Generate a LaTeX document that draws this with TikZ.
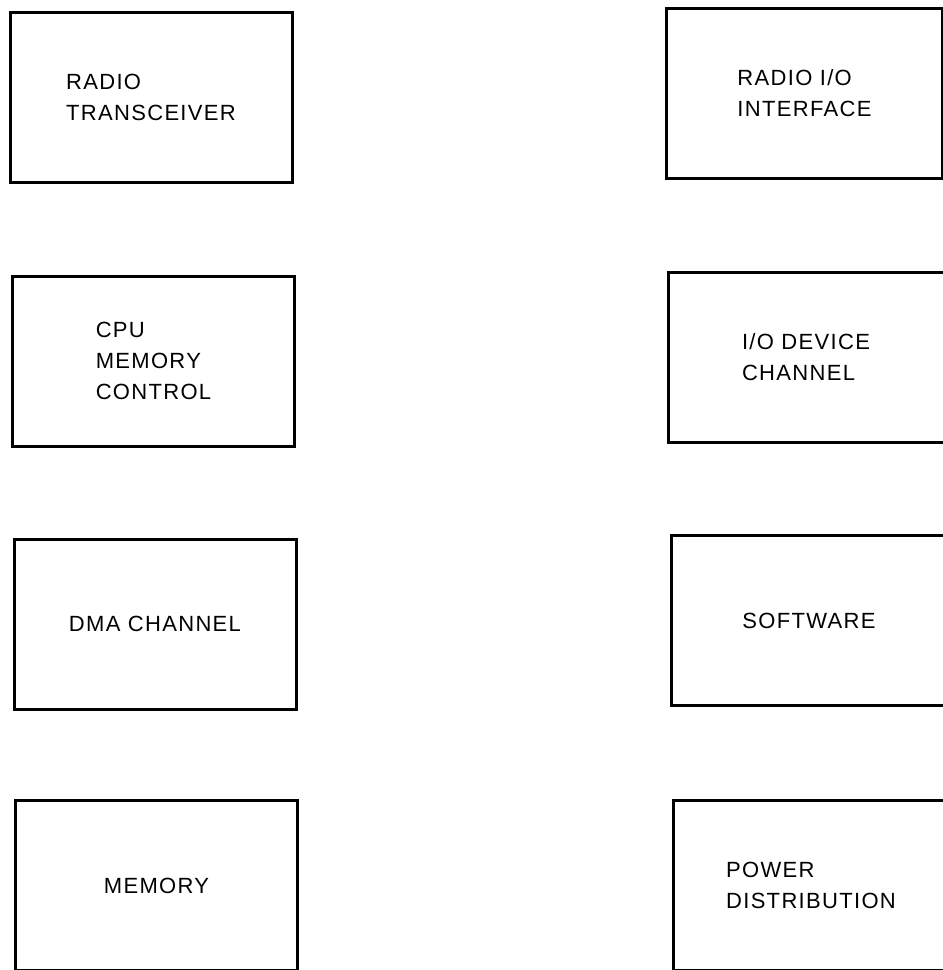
\documentclass[tikz,border=0pt]{standalone}
\usepackage{fontspec}
\setmainfont{Liberation Sans}[LetterSpace=6]
\begin{document}
\begin{tikzpicture}[x=0.5pt, y=-0.5pt,
    unit/.style={rectangle, draw, line width=1.5pt, minimum height=85pt, align=left, inner sep=0pt, font=\fontsize{11}{15.5}\selectfont},
    leftunit/.style={unit, minimum width=141pt},
    rightunit/.style={unit, minimum width=138pt}
]
    \useasboundingbox (0,0) rectangle (943,970);
    \clip (0,0) rectangle (943,970);

    % Left column
    \node[leftunit] (trx) at (151,97) {RADIO\\TRANSCEIVER};
    \node[leftunit] (cpu) at (153.5,361) {CPU\\MEMORY\\CONTROL};
    \node[leftunit] (dma) at (155,624) {DMA CHANNEL};
    \node[leftunit] (mem) at (156.5,885.5) {MEMORY};

    % Right column
    \node[rightunit] (rio) at (804.5,93) {RADIO I/O\\INTERFACE};
    \node[rightunit] (iodev) at (806,357.5) {I/O DEVICE\\CHANNEL};
    \node[rightunit] (sw) at (809,620.5) {SOFTWARE};
    \node[rightunit] (pwr) at (811,885) {POWER\\DISTRIBUTION};

\end{tikzpicture}
\end{document}
